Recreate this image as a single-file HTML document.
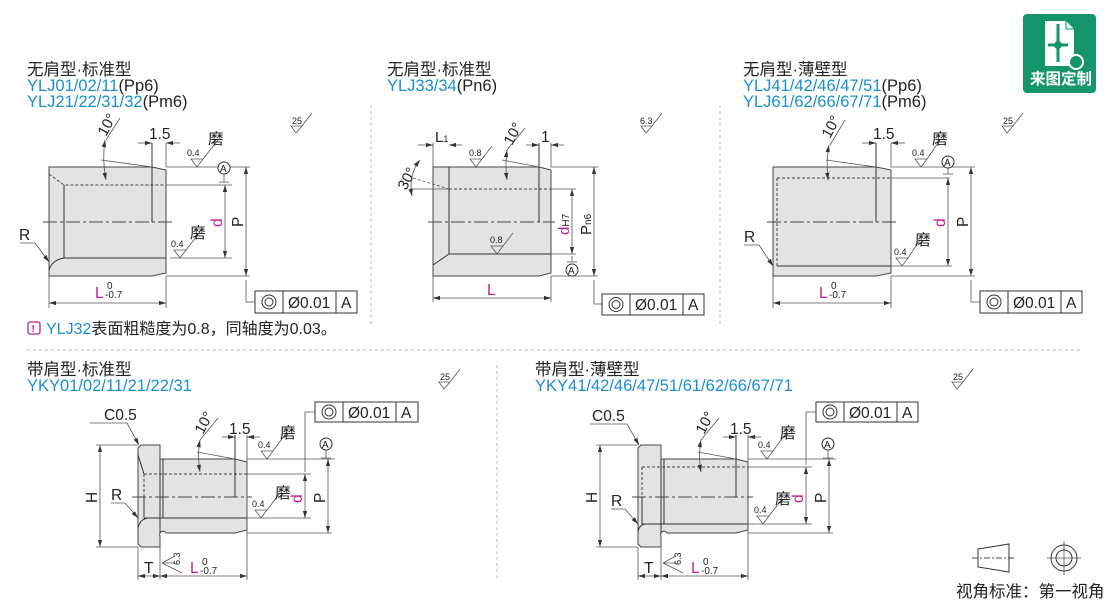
<!DOCTYPE html>
<html><head><meta charset="utf-8"><style>
body{margin:0;background:#fff;width:1110px;height:602px;overflow:hidden}
svg{display:block}
text{font-family:"Liberation Sans","Noto Sans CJK SC",sans-serif;fill:#222}
.t{font-size:16.5px}.b{fill:#1a8fd0}.m{fill:#c0208f}
.l{font-size:15.5px}
.s{fill:none;stroke:#333;stroke-width:1}
.th{fill:none;stroke:#555;stroke-width:0.8}
.body{fill:#e3e3e3;stroke:#444;stroke-width:1}
.dash{fill:none;stroke:#444;stroke-width:1;stroke-dasharray:3,2}
.cl{fill:none;stroke:#444;stroke-width:1;stroke-dasharray:14,3,3,3}
.div{fill:none;stroke:#bbb;stroke-width:1;stroke-dasharray:3,3}
</style></head><body>
<svg width="1110" height="602" viewBox="0 0 1110 602">
<defs>
<marker id="ar" viewBox="0 0 10 10" refX="10" refY="5" markerWidth="9" markerHeight="9" orient="auto-start-reverse"><path d="M0,2 L10,5 L0,8z" fill="#333"/></marker>
</defs>

<line class="div" x1="371" y1="105" x2="371" y2="325"/>
<line class="div" x1="720" y1="105" x2="720" y2="325"/>
<line class="div" x1="27" y1="350" x2="1082" y2="350"/>
<line class="div" x1="497" y1="365" x2="497" y2="578"/>

<!-- badge -->
<rect x="1023" y="14" width="73" height="79" rx="4" fill="#14956b"/>
<path d="M1045,21 L1066,21 L1074,29 L1074,66 L1045,66z" fill="#fff"/>
<path d="M1066,21 L1066,29 L1074,29" fill="#dfe" stroke="#14956b" stroke-width="1"/>
<path d="M1058,24 V62 M1048,45 H1068" stroke="#14956b" stroke-width="3"/>
<circle cx="1058" cy="45" r="4" fill="#14956b"/>
<circle cx="1076" cy="62" r="7" fill="#14956b" stroke="#fff" stroke-width="2"/>
<text x="1030" y="84" style="font-size:15.5px;font-weight:bold;fill:#fff">来图定制</text>

<!-- ============ Panel 1 ============ -->
<text class="t" x="27" y="75">无肩型·标准型</text>
<text class="t b" x="27" y="91">YLJ01/02/11<tspan style="fill:#222">(Pp6)</tspan></text>
<text class="t b" x="27" y="107">YLJ21/22/31/32<tspan style="fill:#222">(Pm6)</tspan></text>
<path class="body" d="M49,167 L152,167 L166,170 L166,273 L152,276 L49,276z"/>
<path class="dash" d="M49,174 L64,185 L166,185"/>
<line class="s" x1="64" y1="185" x2="64" y2="258"/>
<line class="s" x1="64" y1="258" x2="166" y2="258"/>
<path class="s" d="M49,270 Q52,260 64,258"/>
<line class="cl" x1="43" y1="222" x2="172" y2="222"/>
<line class="s" x1="152" y1="143" x2="152" y2="222"/>
<line class="th" x1="166" y1="143" x2="166" y2="167"/>
<line class="th" x1="138" y1="143" x2="152" y2="143" marker-end="url(#ar)"/>
<line class="th" x1="180" y1="143" x2="166" y2="143" marker-end="url(#ar)"/>
<text class="l" x="149" y="139">1.5</text>
<line class="th" x1="101" y1="160" x2="152" y2="167"/>
<path class="th" d="M105,140 Q102,160 106,180" marker-start="url(#ar)" marker-end="url(#ar)"/>
<line class="th" x1="106" y1="140" x2="120" y2="118"/>
<text transform="translate(106,137) rotate(-62)" style="font-size:15px">10°</text>
<line class="th" x1="166" y1="167" x2="250" y2="167"/>
<line class="th" x1="166" y1="276" x2="250" y2="276"/>
<line class="th" x1="166" y1="185" x2="232" y2="185"/>
<line class="th" x1="170" y1="258" x2="232" y2="258"/>
<line class="th" x1="246" y1="167" x2="246" y2="276" marker-start="url(#ar)" marker-end="url(#ar)"/>
<line class="th" x1="225" y1="185" x2="225" y2="258" marker-start="url(#ar)" marker-end="url(#ar)"/>
<text class="l" transform="translate(243,227) rotate(-90)">P</text>
<text class="l m" transform="translate(222,227) rotate(-90)">d</text>
<circle cx="224" cy="168" r="6" fill="#fff" stroke="#333"/>
<text x="220" y="172" style="font-size:10px">A</text>
<path class="th" d="M224,174 V182 M219,182 H229"/>
<path class="th" d="M191,159 H203 L197,167z M203,159 L218,140"/>
<text x="187" y="156" style="font-size:9px">0.4</text>
<text class="l" x="208" y="144">磨</text>
<path class="th" d="M174,250 H186 L180,258z M186,250 L200,232"/>
<text x="171" y="247" style="font-size:9px">0.4</text>
<text class="l" x="190" y="238">磨</text>
<text class="l" x="19" y="240">R</text>
<path class="th" d="M20,243 H35 L49,262" marker-end="url(#ar)"/>
<line class="th" x1="49" y1="276" x2="49" y2="308"/>
<line class="th" x1="166" y1="276" x2="166" y2="308"/>
<line class="th" x1="49" y1="303" x2="166" y2="303" marker-start="url(#ar)" marker-end="url(#ar)"/>
<text class="l m" x="95" y="298">L</text>
<text x="107" y="289" style="font-size:10px">0</text>
<text x="105" y="298" style="font-size:10px">-0.7</text>
<path class="th" d="M246,280 V302 H255"/>
<rect x="255" y="291" width="102" height="22" fill="#fff" stroke="#333"/>
<path class="s" d="M283,291 V313 M336,291 V313"/>
<circle cx="269" cy="302" r="7" class="s"/><circle cx="269" cy="302" r="4" class="s"/>
<text class="l" x="288" y="308">Ø0.01</text>
<text class="l" x="341" y="308">A</text>
<text x="292" y="124" style="font-size:9px">25</text>
<path class="th" d="M291,126 H302 L296,133z M302,126 L312,113"/>
<!-- note -->
<rect x="28" y="322" width="12" height="12" rx="2" fill="none" stroke="#c0208f" stroke-width="1.3"/>
<text x="31.5" y="332" style="font-size:10px;font-weight:bold;fill:#c0208f">!</text>
<text x="46" y="334" style="font-size:16px"><tspan class="b">YLJ32</tspan>表面粗糙度为0.8，同轴度为0.03。</text>

<!-- ============ Panel 2 ============ -->
<text class="t" x="387" y="75">无肩型·标准型</text>
<text class="t b" x="387" y="91">YLJ33/34<tspan style="fill:#222">(Pn6)</tspan></text>
<path class="body" d="M433,167 L539,167 L551,170 L551,273 L539,276 L433,276z"/>
<path class="dash" d="M449,189 L551,189"/>
<line class="s" x1="449" y1="254" x2="551" y2="254"/>
<line class="s" x1="433" y1="265" x2="449" y2="254"/>
<line class="s" x1="449" y1="167" x2="449" y2="254"/>
<line class="th" x1="413" y1="178" x2="449" y2="189" stroke-dasharray="3,2"/>
<line class="th" x1="410" y1="189" x2="449" y2="189"/>
<line class="cl" x1="428" y1="222" x2="555" y2="222"/>
<line class="s" x1="539" y1="143" x2="539" y2="222"/>
<line class="th" x1="551" y1="143" x2="551" y2="167"/>
<line class="th" x1="433" y1="143" x2="433" y2="167"/>
<line class="th" x1="418" y1="145" x2="433" y2="145" marker-end="url(#ar)"/>
<line class="th" x1="462" y1="145" x2="449" y2="145" marker-end="url(#ar)"/>
<text x="435" y="142" style="font-size:15px">L<tspan style="font-size:9px">1</tspan></text>
<line class="th" x1="526" y1="145" x2="539" y2="145" marker-end="url(#ar)"/>
<line class="th" x1="564" y1="145" x2="551" y2="145" marker-end="url(#ar)"/>
<text class="l" x="541" y="142">1</text>
<line class="th" x1="502" y1="160" x2="539" y2="167"/>
<path class="th" d="M507,150 Q505,165 507,180" marker-start="url(#ar)" marker-end="url(#ar)"/>
<line class="th" x1="507" y1="150" x2="525" y2="128"/>
<text transform="translate(512,146) rotate(-62)" style="font-size:15px">10°</text>
<path class="th" d="M420,160 Q408,175 412,196" marker-start="url(#ar)" marker-end="url(#ar)"/>
<text transform="translate(406,191) rotate(-62)" style="font-size:15px">30°</text>
<path class="th" d="M470,159 H482 L476,167z M482,159 L492,146"/>
<text x="469" y="156" style="font-size:9px">0.8</text>
<path class="th" d="M491,246 H503 L497,254z M503,246 L513,233"/>
<text x="490" y="243" style="font-size:9px">0.8</text>
<line class="th" x1="551" y1="167" x2="598" y2="167"/>
<line class="th" x1="551" y1="276" x2="598" y2="276"/>
<line class="th" x1="551" y1="189" x2="576" y2="189"/>
<line class="th" x1="551" y1="254" x2="576" y2="254"/>
<line class="th" x1="594" y1="167" x2="594" y2="276" marker-start="url(#ar)" marker-end="url(#ar)"/>
<line class="th" x1="572" y1="189" x2="572" y2="254" marker-start="url(#ar)" marker-end="url(#ar)"/>
<text transform="translate(591,235) rotate(-90)" style="font-size:15px">P<tspan style="font-size:10px">n6</tspan></text>
<text transform="translate(569,235) rotate(-90)" style="font-size:15px"><tspan class="m">d</tspan><tspan style="font-size:10px">H7</tspan></text>
<path class="th" d="M572,256 V262 M567,262 H577"/>
<circle cx="572" cy="270" r="6" fill="#fff" stroke="#333"/>
<text x="568" y="274" style="font-size:10px">A</text>
<line class="th" x1="433" y1="276" x2="433" y2="302"/>
<line class="th" x1="551" y1="276" x2="551" y2="302"/>
<line class="th" x1="433" y1="298" x2="551" y2="298" marker-start="url(#ar)" marker-end="url(#ar)"/>
<text class="l m" x="487" y="295">L</text>
<path class="th" d="M594,280 V304 H602"/>
<rect x="602" y="294" width="102" height="21" fill="#fff" stroke="#333"/>
<path class="s" d="M630,294 V315 M683,294 V315"/>
<circle cx="616" cy="304.5" r="7" class="s"/><circle cx="616" cy="304.5" r="4" class="s"/>
<text class="l" x="635" y="310">Ø0.01</text>
<text class="l" x="688" y="310">A</text>
<text x="640" y="124" style="font-size:9px">6.3</text>
<path class="th" d="M641,126 H652 L646,133z M652,126 L662,113"/>

<!-- ============ Panel 3 ============ -->
<text class="t" x="743" y="75">无肩型·薄壁型</text>
<text class="t b" x="743" y="91">YLJ41/42/46/47/51<tspan style="fill:#222">(Pp6)</tspan></text>
<text class="t b" x="743" y="107">YLJ61/62/66/67/71<tspan style="fill:#222">(Pm6)</tspan></text>
<path class="body" d="M773,167 L876,167 L891,170 L891,273 L876,276 L773,276z"/>
<path class="dash" d="M777,178 L891,178 M777,178 V266"/>
<line class="s" x1="777" y1="266" x2="891" y2="266"/>
<line class="cl" x1="767" y1="222" x2="897" y2="222"/>
<line class="s" x1="876" y1="143" x2="876" y2="222"/>
<line class="th" x1="891" y1="143" x2="891" y2="167"/>
<line class="th" x1="862" y1="143" x2="876" y2="143" marker-end="url(#ar)"/>
<line class="th" x1="905" y1="143" x2="891" y2="143" marker-end="url(#ar)"/>
<text class="l" x="873" y="139">1.5</text>
<line class="th" x1="826" y1="160" x2="876" y2="167"/>
<path class="th" d="M829,145 Q826,160 828,180" marker-start="url(#ar)" marker-end="url(#ar)"/>
<line class="th" x1="830" y1="145" x2="845" y2="120"/>
<text transform="translate(830,139) rotate(-62)" style="font-size:15px">10°</text>
<line class="th" x1="891" y1="167" x2="975" y2="167"/>
<line class="th" x1="891" y1="276" x2="975" y2="276"/>
<line class="th" x1="891" y1="178" x2="950" y2="178"/>
<line class="th" x1="891" y1="266" x2="952" y2="266"/>
<line class="th" x1="971" y1="167" x2="971" y2="276" marker-start="url(#ar)" marker-end="url(#ar)"/>
<line class="th" x1="948" y1="178" x2="948" y2="266" marker-start="url(#ar)" marker-end="url(#ar)"/>
<text class="l" transform="translate(968,227) rotate(-90)">P</text>
<text class="l m" transform="translate(945,227) rotate(-90)">d</text>
<circle cx="948" cy="162" r="6" fill="#fff" stroke="#333"/>
<text x="944" y="166" style="font-size:10px">A</text>
<path class="th" d="M948,168 V174 M943,174 H953"/>
<path class="th" d="M915,159 H927 L921,167z M927,159 L940,140"/>
<text x="912" y="156" style="font-size:9px">0.4</text>
<text class="l" x="932" y="144">磨</text>
<path class="th" d="M896,258 H908 L902,266z M908,258 L920,240"/>
<text x="894" y="255" style="font-size:9px">0.4</text>
<text class="l" x="915" y="245">磨</text>
<text class="l" x="744" y="242">R</text>
<path class="th" d="M744,245 H759 L773,266" marker-end="url(#ar)"/>
<line class="th" x1="773" y1="276" x2="773" y2="308"/>
<line class="th" x1="891" y1="276" x2="891" y2="308"/>
<line class="th" x1="773" y1="303" x2="891" y2="303" marker-start="url(#ar)" marker-end="url(#ar)"/>
<text class="l m" x="819" y="298">L</text>
<text x="831" y="289" style="font-size:10px">0</text>
<text x="829" y="298" style="font-size:10px">-0.7</text>
<path class="th" d="M971,280 V302 H980"/>
<rect x="980" y="291" width="102" height="22" fill="#fff" stroke="#333"/>
<path class="s" d="M1008,291 V313 M1061,291 V313"/>
<circle cx="994" cy="302" r="7" class="s"/><circle cx="994" cy="302" r="4" class="s"/>
<text class="l" x="1013" y="308">Ø0.01</text>
<text class="l" x="1066" y="308">A</text>
<text x="1003" y="124" style="font-size:9px">25</text>
<path class="th" d="M1002,126 H1013 L1007,133z M1013,126 L1023,113"/>

<!-- ============ Panel 4 ============ -->
<text class="t" x="27" y="375">带肩型·标准型</text>
<text class="t b" x="27" y="391">YKY01/02/11/21/22/31</text>
<path class="body" d="M141,445 L160,445 L160,459 L235,459 L247,462 L247,530 L235,533 L166,533 A3,3 0 0 0 160,536 L160,547 L141,547 L138,544 L138,448z"/>
<path class="s" d="M160,459 V533 M163,459 V518"/>
<path class="dash" d="M144,474 H247 M144,474 V497"/>
<line class="s" x1="138" y1="455" x2="144" y2="474"/>
<line class="s" x1="144" y1="497" x2="144" y2="518"/>
<line class="s" x1="144" y1="518" x2="247" y2="518"/>
<path class="s" d="M138,528 Q140,519 148,518"/>
<line class="cl" x1="132" y1="497" x2="252" y2="497"/>
<line class="s" x1="235" y1="435" x2="235" y2="497"/>
<line class="th" x1="247" y1="435" x2="247" y2="580"/>
<line class="th" x1="222" y1="437" x2="235" y2="437" marker-end="url(#ar)"/>
<line class="th" x1="260" y1="437" x2="247" y2="437" marker-end="url(#ar)"/>
<text class="l" x="229" y="434">1.5</text>
<line class="th" x1="197" y1="452" x2="235" y2="459"/>
<path class="th" d="M200,440 Q197,455 200,472" marker-start="url(#ar)" marker-end="url(#ar)"/>
<line class="th" x1="200" y1="440" x2="218" y2="418"/>
<text transform="translate(203,435) rotate(-62)" style="font-size:15px">10°</text>
<line class="th" x1="247" y1="459" x2="335" y2="459"/>
<line class="th" x1="247" y1="474" x2="311" y2="474"/>
<line class="th" x1="247" y1="518" x2="311" y2="518"/>
<line class="th" x1="247" y1="533" x2="332" y2="533"/>
<line class="th" x1="328" y1="459" x2="328" y2="533" marker-start="url(#ar)" marker-end="url(#ar)"/>
<line class="th" x1="305" y1="474" x2="305" y2="518" marker-start="url(#ar)" marker-end="url(#ar)"/>
<path class="th" d="M305,472 V412 H315"/>
<text class="l" transform="translate(325,503) rotate(-90)">P</text>
<text class="l m" transform="translate(302,503) rotate(-90)">d</text>
<circle cx="326" cy="444" r="6" fill="#fff" stroke="#333"/>
<text x="322" y="448" style="font-size:10px">A</text>
<path class="th" d="M326,450 V458 M321,458 H331"/>
<path class="th" d="M261,451 H273 L267,459z M273,451 L287,432"/>
<text x="258" y="448" style="font-size:9px">0.4</text>
<text class="l" x="280" y="438">磨</text>
<path class="th" d="M255,510 H267 L261,518z M267,510 L280,493"/>
<text x="252" y="507" style="font-size:9px">0.4</text>
<text class="l" x="275" y="498">磨</text>
<text class="l" x="104" y="420">C0.5</text>
<path class="th" d="M90,423 H127 L139,445" marker-end="url(#ar)"/>
<text class="l" x="111" y="500">R</text>
<path class="th" d="M111,503 H125 L138,518" marker-end="url(#ar)"/>
<line class="th" x1="138" y1="445" x2="96" y2="445"/>
<line class="th" x1="138" y1="547" x2="96" y2="547"/>
<line class="th" x1="100" y1="445" x2="100" y2="547" marker-start="url(#ar)" marker-end="url(#ar)"/>
<text class="l" transform="translate(97,503) rotate(-90)">H</text>
<line class="th" x1="138" y1="547" x2="138" y2="580"/>
<line class="th" x1="160" y1="547" x2="160" y2="580"/>
<line class="th" x1="138" y1="576" x2="160" y2="576" marker-start="url(#ar)" marker-end="url(#ar)"/>
<line class="th" x1="160" y1="576" x2="247" y2="576" marker-start="url(#ar)" marker-end="url(#ar)"/>
<text class="l" x="144" y="573">T</text>
<text class="l m" x="190" y="573">L</text>
<text x="202" y="565" style="font-size:10px">0</text>
<text x="200" y="574" style="font-size:10px">-0.7</text>
<path class="th" d="M175,556 L162,563 L175,563 M162,563 L182,573"/>
<text transform="translate(180,565) rotate(-90)" style="font-size:9px">6.3</text>
<rect x="315" y="402" width="103" height="20" fill="#fff" stroke="#333"/>
<path class="s" d="M343,402 V422 M396,402 V422"/>
<circle cx="329" cy="412" r="7" class="s"/><circle cx="329" cy="412" r="4" class="s"/>
<text class="l" x="348" y="418">Ø0.01</text>
<text class="l" x="401" y="418">A</text>
<text x="440" y="380" style="font-size:9px">25</text>
<path class="th" d="M439,382 H450 L444,389z M450,382 L460,369"/>

<!-- ============ Panel 5 ============ -->
<text class="t" x="535" y="375">带肩型·薄壁型</text>
<text class="t b" x="535" y="391">YKY41/42/46/47/51/61/62/66/67/71</text>
<path class="body" d="M641,445 L661,445 L661,459 L736,459 L748,462 L748,530 L736,533 L667,533 A3,3 0 0 0 661,536 L661,547 L641,547 L638,544 L638,448z"/>
<path class="s" d="M661,459 V533 M664,459 V524"/>
<path class="dash" d="M642,467 H748 M642,467 V497"/>
<line class="s" x1="642" y1="497" x2="642" y2="524"/>
<line class="s" x1="642" y1="524" x2="748" y2="524"/>
<path class="s" d="M638,532 Q639,525 645,524"/>
<line class="cl" x1="632" y1="497" x2="753" y2="497"/>
<line class="s" x1="736" y1="435" x2="736" y2="497"/>
<line class="th" x1="748" y1="435" x2="748" y2="580"/>
<line class="th" x1="723" y1="437" x2="736" y2="437" marker-end="url(#ar)"/>
<line class="th" x1="761" y1="437" x2="748" y2="437" marker-end="url(#ar)"/>
<text class="l" x="730" y="434">1.5</text>
<line class="th" x1="698" y1="452" x2="736" y2="459"/>
<path class="th" d="M701,440 Q698,455 701,472" marker-start="url(#ar)" marker-end="url(#ar)"/>
<line class="th" x1="701" y1="440" x2="719" y2="418"/>
<text transform="translate(704,435) rotate(-62)" style="font-size:15px">10°</text>
<line class="th" x1="748" y1="459" x2="836" y2="459"/>
<line class="th" x1="748" y1="467" x2="812" y2="467"/>
<line class="th" x1="748" y1="524" x2="812" y2="524"/>
<line class="th" x1="748" y1="533" x2="833" y2="533"/>
<line class="th" x1="829" y1="459" x2="829" y2="533" marker-start="url(#ar)" marker-end="url(#ar)"/>
<line class="th" x1="806" y1="467" x2="806" y2="524" marker-start="url(#ar)" marker-end="url(#ar)"/>
<path class="th" d="M806,465 V412 H816"/>
<text class="l" transform="translate(826,503) rotate(-90)">P</text>
<text class="l m" transform="translate(803,503) rotate(-90)">d</text>
<circle cx="828" cy="444" r="6" fill="#fff" stroke="#333"/>
<text x="824" y="448" style="font-size:10px">A</text>
<path class="th" d="M828,450 V458 M823,458 H833"/>
<path class="th" d="M761,451 H773 L767,459z M773,451 L787,432"/>
<text x="758" y="448" style="font-size:9px">0.4</text>
<text class="l" x="780" y="438">磨</text>
<path class="th" d="M757,516 H769 L763,524z M769,516 L782,499"/>
<text x="754" y="513" style="font-size:9px">0.4</text>
<text class="l" x="775" y="504">磨</text>
<text class="l" x="592" y="421">C0.5</text>
<path class="th" d="M590,424 H627 L639,445" marker-end="url(#ar)"/>
<text class="l" x="611" y="506">R</text>
<path class="th" d="M611,509 H625 L638,524" marker-end="url(#ar)"/>
<line class="th" x1="638" y1="445" x2="596" y2="445"/>
<line class="th" x1="638" y1="547" x2="596" y2="547"/>
<line class="th" x1="600" y1="445" x2="600" y2="547" marker-start="url(#ar)" marker-end="url(#ar)"/>
<text class="l" transform="translate(597,503) rotate(-90)">H</text>
<line class="th" x1="638" y1="547" x2="638" y2="580"/>
<line class="th" x1="661" y1="547" x2="661" y2="580"/>
<line class="th" x1="638" y1="576" x2="661" y2="576" marker-start="url(#ar)" marker-end="url(#ar)"/>
<line class="th" x1="661" y1="576" x2="748" y2="576" marker-start="url(#ar)" marker-end="url(#ar)"/>
<text class="l" x="644" y="573">T</text>
<text class="l m" x="691" y="573">L</text>
<text x="703" y="565" style="font-size:10px">0</text>
<text x="701" y="574" style="font-size:10px">-0.7</text>
<path class="th" d="M676,556 L663,563 L676,563 M663,563 L683,573"/>
<text transform="translate(681,565) rotate(-90)" style="font-size:9px">6.3</text>
<rect x="816" y="402" width="102" height="20" fill="#fff" stroke="#333"/>
<path class="s" d="M844,402 V422 M897,402 V422"/>
<circle cx="830" cy="412" r="7" class="s"/><circle cx="830" cy="412" r="4" class="s"/>
<text class="l" x="849" y="418">Ø0.01</text>
<text class="l" x="902" y="418">A</text>
<text x="953" y="380" style="font-size:9px">25</text>
<path class="th" d="M952,382 H963 L957,389z M963,382 L973,369"/>

<!-- view standard -->
<path class="s" d="M978,549 L1009,544 L1009,572 L978,567z"/>
<line class="cl" x1="972" y1="558" x2="1015" y2="558" style="stroke-dasharray:6,2,2,2"/>
<circle cx="1064" cy="558" r="13" class="s"/>
<circle cx="1064" cy="558" r="8" class="s"/>
<path class="th" d="M1064,541 V575 M1047,558 H1081"/>
<text x="956" y="597" style="font-size:16.5px">视角标准：第一视角</text>
</svg>
</body></html>
